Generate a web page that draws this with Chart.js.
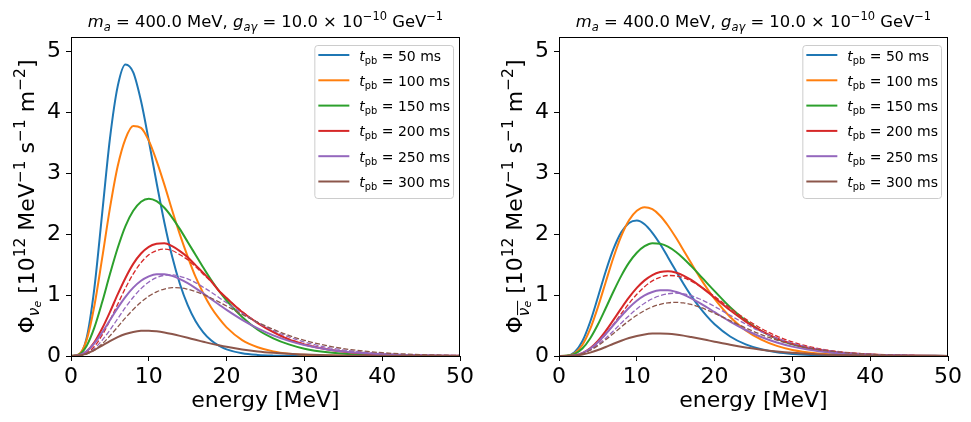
<!DOCTYPE html>
<html>
<head>
<meta charset="utf-8">
<script src="https://cdn.jsdelivr.net/npm/chart.js@4.4.0/dist/chart.umd.min.js"></script>
<style>
  html, body { margin: 0; padding: 0; background: #fff; }
  #wrap { position: relative; width: 971px; height: 422px; }
  canvas { position: absolute; top: 0; }
</style>
</head>
<body>
<div id="wrap">
  <canvas id="left" width="485" height="422" style="left:0"></canvas>
  <canvas id="right" width="483" height="422" style="left:488px"></canvas>
</div>
<script>
const energy = [0,1,2,3,4,5,6,7,8,9,10,11,12,13,14,15,16,17,18,19,20,22,24,26,28,30,33,36,40,45,50];

const tpb = [50, 100, 150, 200, 250, 300];
const colors = ['#1f77b4', '#ff7f0e', '#2ca02c', '#d62728', '#9467bd', '#8c564b'];
const xTicks = [0, 10, 20, 30, 40, 50];
const yTicks = [0, 1, 2, 3, 4, 5];

// left panel: nu_e
const nue50  = [0,0.018,0.29,1.11,2.33,3.56,4.42,4.78,4.65,4.18,3.53,2.84,2.19,1.63,1.18,0.833,0.574,0.389,0.258,0.169,0.109,0.044,0.017,0.006,0.002,0.001,0,0,0,0,0];
const nue100 = [0,0.026,0.26,0.82,1.60,2.42,3.11,3.56,3.77,3.74,3.53,3.20,2.81,2.39,1.99,1.63,1.30,1.03,0.80,0.62,0.47,0.26,0.144,0.076,0.039,0.020,0.007,0.003,0.001,0,0];
const nue150 = [0,0.022,0.165,0.465,0.88,1.34,1.77,2.13,2.38,2.53,2.58,2.54,2.43,2.27,2.08,1.87,1.66,1.45,1.25,1.07,0.91,0.64,0.43,0.29,0.19,0.12,0.060,0.029,0.011,0.003,0.001];
const nue200 = [0,0.009,0.073,0.223,0.45,0.72,1.01,1.28,1.51,1.68,1.79,1.84,1.85,1.80,1.72,1.62,1.49,1.36,1.23,1.07,0.95,0.72,0.54,0.39,0.27,0.19,0.106,0.058,0.025,0.008,0.003];
const nue250 = [0,0.012,0.077,0.206,0.385,0.586,0.789,0.971,1.121,1.234,1.306,1.342,1.341,1.313,1.261,1.193,1.113,1.026,0.935,0.845,0.756,0.593,0.453,0.338,0.248,0.179,0.107,0.063,0.030,0.011,0.004];
const nue300 = [0,0.007,0.039,0.098,0.170,0.243,0.308,0.360,0.394,0.412,0.415,0.405,0.386,0.360,0.330,0.298,0.265,0.234,0.203,0.176,0.151,0.108,0.075,0.052,0.035,0.023,0.012,0.006,0.003,0.001,0];
const nue200d = [0,0.005,0.045,0.155,0.341,0.581,0.849,1.113,1.347,1.531,1.659,1.729,1.754,1.73,1.66,1.577,1.465,1.341,1.218,1.077,0.948,0.728,0.547,0.40,0.279,0.196,0.111,0.061,0.027,0.009,0.003];
const nue250d = [0,0.005,0.039,0.123,0.257,0.425,0.611,0.796,0.963,1.105,1.213,1.285,1.323,1.33,1.307,1.264,1.202,1.128,1.047,0.960,0.872,0.701,0.548,0.418,0.312,0.229,0.140,0.083,0.040,0.015,0.006];
const nue300d = [0,0.004,0.031,0.097,0.199,0.33,0.477,0.625,0.763,0.884,0.981,1.052,1.098,1.12,1.118,1.095,1.058,1.009,0.951,0.887,0.819,0.682,0.552,0.436,0.337,0.257,0.166,0.104,0.054,0.023,0.009];

// right panel: anti nu_e
const anue50  = [0,0.004,0.061,0.241,0.557,0.963,1.385,1.755,2.027,2.18,2.22,2.16,2.02,1.835,1.62,1.40,1.186,0.986,0.808,0.653,0.52,0.32,0.19,0.11,0.061,0.034,0.013,0.005,0.001,0,0];
const anue100 = [0,0.003,0.044,0.181,0.439,0.80,1.21,1.615,1.964,2.225,2.38,2.44,2.406,2.30,2.14,1.946,1.735,1.52,1.31,1.114,0.935,0.639,0.42,0.268,0.166,0.10,0.046,0.020,0.006,0.001,0];
const anue150 = [0,0.003,0.033,0.123,0.288,0.516,0.783,1.058,1.314,1.53,1.693,1.80,1.85,1.84,1.793,1.709,1.60,1.473,1.339,1.20,1.064,0.80,0.58,0.41,0.28,0.19,0.10,0.05,0.02,0.006,0.002];
const anue200 = [0,0.001,0.011,0.048,0.126,0.249,0.409,0.592,0.781,0.96,1.116,1.24,1.327,1.376,1.39,1.369,1.319,1.247,1.158,1.059,0.955,0.749,0.564,0.41,0.289,0.199,0.109,0.057,0.023,0.007,0.002];
const anue250 = [0,0.001,0.011,0.048,0.119,0.226,0.36,0.508,0.656,0.792,0.906,0.993,1.049,1.076,1.08,1.052,1.007,0.946,0.876,0.799,0.719,0.564,0.426,0.311,0.221,0.154,0.086,0.046,0.019,0.006,0.002];
const anue300 = [0,0.0005,0.006,0.024,0.055,0.098,0.148,0.201,0.251,0.295,0.329,0.353,0.367,0.37,0.364,0.352,0.334,0.311,0.287,0.261,0.235,0.184,0.14,0.104,0.075,0.053,0.030,0.017,0.007,0.002,0.001];
const anue200d = [0,0.001,0.009,0.04,0.107,0.213,0.354,0.519,0.693,0.861,1.012,1.137,1.231,1.29,1.32,1.314,1.283,1.227,1.154,1.069,0.976,0.785,0.605,0.451,0.326,0.23,0.131,0.071,0.030,0.0095,0.003];
const anue250d = [0,0.001,0.010,0.040,0.098,0.183,0.291,0.412,0.539,0.661,0.772,0.866,0.939,0.99,1.02,1.03,1.018,0.988,0.939,0.88,0.812,0.667,0.524,0.397,0.292,0.209,0.121,0.067,0.029,0.0095,0.003];
const anue300d = [0,0.001,0.011,0.041,0.094,0.17,0.265,0.369,0.476,0.578,0.669,0.746,0.806,0.848,0.872,0.88,0.87,0.845,0.805,0.756,0.70,0.579,0.459,0.351,0.261,0.189,0.112,0.064,0.028,0.0097,0.003];

const FONT = '"DejaVu Sans"';

// draws a list of text pieces (italic / sub / superscript) in one line
function rich(ctx, segs, x, y, size, align) {
  const parts = segs.map(g => {
    const fs = size * (g.s || 1);
    const font = (g.i ? 'italic ' : '') + fs + 'px ' + FONT;
    ctx.font = font;
    return { g, font, w: ctx.measureText(g.t).width };
  });
  const total = parts.reduce((a, p) => a + p.w, 0);
  let cx = align === 'center' ? x - total / 2 : x;
  let b0 = null, b1 = null, bTop = 0;
  ctx.textAlign = 'left';
  ctx.textBaseline = 'alphabetic';
  parts.forEach(p => {
    ctx.font = p.font;
    ctx.fillText(p.g.t, cx, y - (p.g.r || 0) * size);
    if (p.g.bar) {
      if (b0 === null) { b0 = cx; bTop = p.g.r * size + 0.62 * (p.g.s || 1) * size; }
      b1 = cx + p.w;
    }
    cx += p.w;
  });
  if (b0 !== null) {
    // overline above the barred pieces
    ctx.beginPath();
    ctx.lineWidth = 1;
    ctx.moveTo(b0 + 1, y - bTop - 1.5);
    ctx.lineTo(b1, y - bTop - 1.5);
    ctx.stroke();
  }
  return total;
}

const SUB = -0.22, SUP = 0.42;

const titleSegs = [
  { t: 'm', i: 1 }, { t: 'a', i: 1, s: 0.7, r: SUB }, { t: ' = 400.0 MeV, ' },
  { t: 'g', i: 1 }, { t: 'aγ', i: 1, s: 0.7, r: SUB }, { t: ' = 10.0 × 10' },
  { t: '−10', s: 0.7, r: SUP }, { t: ' GeV' }, { t: '−1', s: 0.7, r: SUP }
];

function ylabelSegs(bar) {
  const sub = bar ? -0.3 : SUB;
  return [
    { t: 'Φ' }, { t: 'ν', i: 1, s: 0.7, r: sub, bar }, { t: 'e', i: 1, s: 0.5, r: sub - 0.12, bar },
    { t: ' [10' }, { t: '12', s: 0.7, r: SUP }, { t: ' MeV' }, { t: '−1', s: 0.7, r: SUP },
    { t: ' s' }, { t: '−1', s: 0.7, r: SUP }, { t: ' m' }, { t: '−2', s: 0.7, r: SUP }, { t: ']' }
  ];
}

const deco = {
  id: 'deco',
  afterDraw(chart, args, opts) {
    const ctx = chart.ctx;
    const ca = chart.chartArea;
    ctx.save();
    ctx.fillStyle = '#000';
    ctx.strokeStyle = '#000';

    // axes frame
    ctx.lineWidth = 1;
    ctx.strokeRect(Math.round(ca.left) + 0.5, Math.round(ca.top) + 0.5,
      Math.round(ca.right - ca.left) - 1, Math.round(ca.bottom - ca.top));

    // title
    rich(ctx, titleSegs, (ca.left + ca.right) / 2, 27, 16.4, 'center');

    // x label
    ctx.font = '22px ' + FONT;
    ctx.textAlign = 'center';
    ctx.fillText('energy [MeV]', (ca.left + ca.right) / 2, 407);

    // y label
    ctx.save();
    ctx.translate(34, (ca.top + ca.bottom) / 2);
    ctx.rotate(-Math.PI / 2);
    rich(ctx, ylabelSegs(opts.bar), 0, 0, 22, 'center');
    ctx.restore();

    // legend
    const fs = 14;
    const labels = tpb.map(t => [{ t: 't', i: 1 }, { t: 'pb', s: 0.7, r: SUB }, { t: ' = ' + t + ' ms' }]);
    let maxW = 0;
    labels.forEach(l => {
      let w = 0;
      l.forEach(g => { ctx.font = (g.i ? 'italic ' : '') + fs * (g.s || 1) + 'px ' + FONT; w += ctx.measureText(g.t).width; });
      maxW = Math.max(maxW, w);
    });
    const bw = 45 + maxW + 3, bh = 153;
    const bx = ca.right - 7 - bw, by = ca.top + 8;
    ctx.beginPath();
    ctx.roundRect(bx + 0.5, by + 0.5, bw, bh, 3);
    ctx.fillStyle = 'rgba(255,255,255,0.8)';
    ctx.fill();
    ctx.strokeStyle = '#cccccc';
    ctx.lineWidth = 1;
    ctx.stroke();
    labels.forEach((l, k) => {
      const ly = by + 10 + k * 25.3;
      ctx.beginPath();
      ctx.strokeStyle = colors[k];
      ctx.lineWidth = 2;
      ctx.moveTo(bx + 4, ly);
      ctx.lineTo(bx + 35, ly);
      ctx.stroke();
      ctx.fillStyle = '#000';
      rich(ctx, l, bx + 45, ly + 5.5, fs, 'left');
    });
    ctx.restore();
  }
};

function makeChart(id, series, dashed, bar, padRight) {
  const pts = arr => energy.map((e, i) => ({ x: e, y: arr[i] }));
  const sets = [];
  series.forEach((arr, k) => {
    sets.push({ data: pts(arr), borderColor: colors[k], borderWidth: 2 });
    if (dashed[k]) {
      sets.push({ data: pts(dashed[k]), borderColor: colors[k], borderWidth: 1.3, borderDash: [5, 2.2] });
    }
  });
  sets.forEach((s, i) => {
    s.pointRadius = 0;
    s.fill = false;
    s.cubicInterpolationMode = 'monotone';
    s.order = sets.length - i; // later curves on top, as in the original
  });

  const tickFont = { family: FONT, size: 22 };
  return new Chart(document.getElementById(id), {
    type: 'line',
    data: { datasets: sets },
    plugins: [deco],
    options: {
      responsive: false,
      animation: false,
      devicePixelRatio: 1,
      layout: { padding: { top: 37, right: padRight, left: 0, bottom: 0 } },
      plugins: { legend: { display: false }, tooltip: { enabled: false }, deco: { bar } },
      scales: {
        x: {
          type: 'linear', min: 0, max: 50,
          afterBuildTicks: s => { s.ticks = xTicks.map(v => ({ value: v })); },
          afterFit: s => { s.height = 66; },
          ticks: { font: tickFont, color: '#000', padding: 3, maxRotation: 0, autoSkip: false },
          grid: { drawOnChartArea: false, drawTicks: true, tickLength: 5, color: '#000' },
          border: { display: false }
        },
        y: {
          type: 'linear', min: 0, max: 5.23,
          afterBuildTicks: s => { s.ticks = yTicks.map(v => ({ value: v })); },
          afterFit: s => { s.width = 71; },
          ticks: { font: tickFont, color: '#000', padding: 5 },
          grid: { drawOnChartArea: false, drawTicks: true, tickLength: 5, color: '#000' },
          border: { display: false }
        }
      }
    }
  });
}

makeChart('left',
  [nue50, nue100, nue150, nue200, nue250, nue300],
  [null, null, null, nue200d, nue250d, nue300d], false, 25);
makeChart('right',
  [anue50, anue100, anue150, anue200, anue250, anue300],
  [null, null, null, anue200d, anue250d, anue300d], true, 23);
</script>
</body>
</html>
